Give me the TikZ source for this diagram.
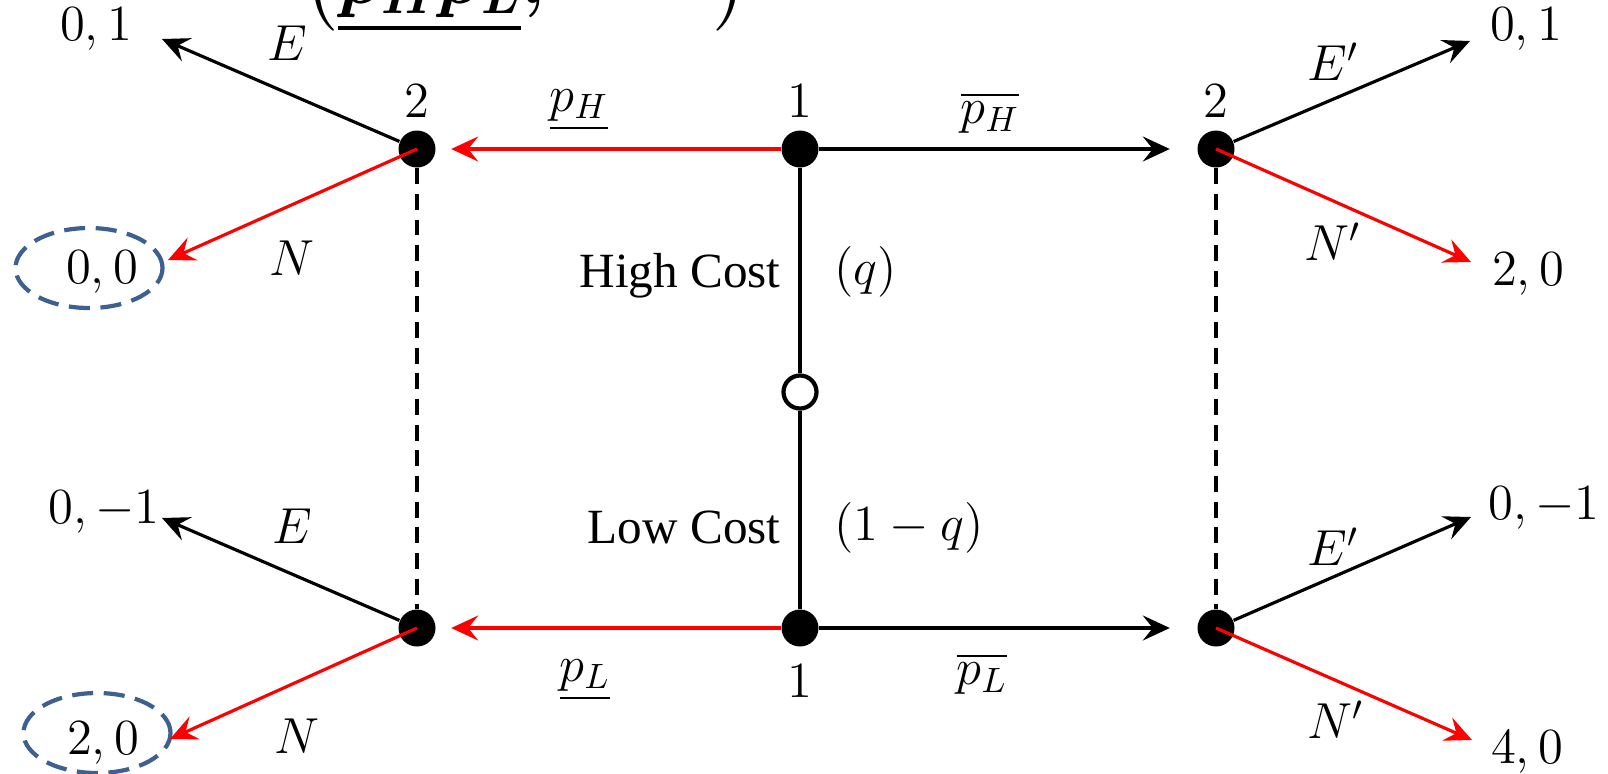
\documentclass[tikz,border=0pt]{standalone}
\usepackage{amsmath,amssymb}
\usepackage{fontspec}
\setmainfont{Liberation Serif}
\usepackage{tikz}
\usetikzlibrary{shapes,arrows,positioning,calc,arrows.meta}
\definecolor{eqRed}{RGB}{255,0,0}
\definecolor{circBlue}{RGB}{62,96,145}

\begin{document}
\begin{tikzpicture}[
        decision/.style={circle,fill=black,inner sep=0pt,minimum size=0.37cm},
        chance/.style={circle,draw=black,fill=white,line width=1.2pt,inner sep=0pt,minimum size=0.33cm},
        move/.style={line width=0.9pt,-{Stealth[length=0.27cm,width=0.25cm,inset=0.1cm]}},
        eqmove/.style={move,draw=eqRed},
        infoset/.style={line width=1.2pt,dash pattern=on 4.5pt off 2.8pt},
        picked/.style={ellipse,draw=circBlue,line width=1.2pt,dash pattern=on 6pt off 3pt,
                      minimum width=1.47cm,minimum height=0.80cm},
        every node/.style={font=\fontsize{14pt}{16pt}\selectfont}
    ]
        \useasboundingbox (0,0) rectangle (16.08,-7.73);
        \clip (0,0) rectangle (16.08,-7.73);

        % Cut-off heading
        \node[anchor=base west,inner sep=0pt,font=\boldmath\fontsize{22pt}{26pt}\selectfont] (hdr) at (3.02,-0.03)
            {$\left(\underline{p_Hp_L},\hspace{1.55cm}\right)$};

        % Player 1 and nature
        \node[decision,label={above:$1$}] (cu) at (8.00,-1.49) {};
        \node[chance] (nat) at (8.00,-3.92) {};
        \node[decision,label={[label distance=0.05cm]below:$1$}] (cd) at (8.00,-6.28) {};

        % Player 2
        \node[decision,label={above:$2$}] (lu) at (4.17,-1.49) {};
        \node[decision] (ld) at (4.17,-6.28) {};
        \node[decision,label={above:$2$}] (ru) at (12.16,-1.49) {};
        \node[decision] (rd) at (12.16,-6.28) {};

        % Arrow ends
        \coordinate (luE) at (1.62,-0.39);
        \coordinate (luN) at (1.68,-2.60);
        \coordinate (ldE) at (1.62,-5.18);
        \coordinate (ldN) at (1.70,-7.39);
        \coordinate (ruE) at (14.70,-0.41);
        \coordinate (ruN) at (14.71,-2.62);
        \coordinate (rdE) at (14.71,-5.17);
        \coordinate (rdN) at (14.72,-7.40);

        % Payoffs
        \node (pay1) at (0.96,-0.29) {$0,1$};
        \node (pay2) at (1.02,-2.72) {$0,0$};
        \node (pay3) at (1.04,-5.12) {$0,-1$};
        \node (pay4) at (1.03,-7.43) {$2,0$};
        \node (pay5) at (15.26,-0.29) {$0,1$};
        \node (pay6) at (15.28,-2.74) {$2,0$};
        \node (pay7) at (15.44,-5.08) {$0,-1$};
        \node (pay8) at (15.27,-7.52) {$4,0$};
        \node[picked] (ring2) at (0.89,-2.68) {};
        \node[picked] (ring4) at (0.97,-7.33) {};

        % Types
        \node[anchor=east] (hiCost) at (7.93,-2.76) {High Cost};
        \node[anchor=west] (hiProb) at (8.22,-2.72) {$(q)$};
        \node[anchor=east] (loCost) at (7.93,-5.27) {Low Cost};
        \node[anchor=west] (loProb) at (8.22,-5.28) {$(1-q)$};

        % Prices
        \node (pHlo) at (5.79,-1.10) {$\underline{p_H}$};
        \node (pHhi) at (9.90,-1.13) {$\overline{p_H}$};
        \node (pLlo) at (5.85,-6.80) {$\underline{p_L}$};
        \node (pLhi) at (9.82,-6.74) {$\overline{p_L}$};

        % Responses
        \node (eLu) at (2.87,-0.43) {$E$};
        \node (nLu) at (2.92,-2.58) {$N$};
        \node (eLd) at (2.92,-5.26) {$E$};
        \node (nLd) at (2.97,-7.36) {$N$};
        \node (eRu) at (13.33,-0.62) {$E'$};
        \node (nRu) at (13.33,-2.42) {$N'$};
        \node (eRd) at (13.33,-5.47) {$E'$};
        \node (nRd) at (13.36,-7.20) {$N'$};

        % Edges
        \draw[line width=0.9pt] (cu) -- (nat) -- (cd);
        \draw[infoset] (lu) -- (ld);
        \draw[infoset] (ru) -- (rd);
        \draw[eqmove,shorten >=0.15cm] (cu) -- (lu);
        \draw[move,shorten >=0.27cm] (cu) -- (ru);
        \draw[eqmove,shorten >=0.15cm] (cd) -- (ld);
        \draw[move,shorten >=0.27cm] (cd) -- (rd);

        \draw[move] (lu) -- (luE);
        \draw[move] (ld) -- (ldE);
        \draw[move] (ru) -- (ruE);
        \draw[move] (rd) -- (rdE);
        \draw[eqmove] (lu.center) -- (luN);
        \draw[eqmove] (ld.center) -- (ldN);
        \draw[eqmove] (ru.center) -- (ruN);
        \draw[eqmove] (rd.center) -- (rdN);
    \end{tikzpicture}
\end{document}
